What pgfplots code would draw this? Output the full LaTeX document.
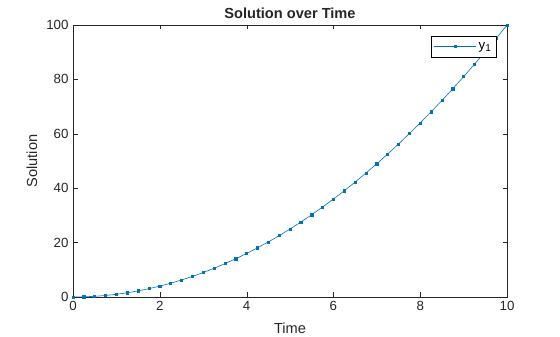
\documentclass[border=0pt]{standalone}
\usepackage{fontspec}
\setmainfont{Liberation Sans}
\usepackage{pgfplots}
\pgfplotsset{compat=1.18}
\definecolor{mblue}{rgb}{0,0.447,0.741}
\definecolor{tickgray}{rgb}{0.15,0.15,0.15}
\begin{document}
\begin{tikzpicture}
\path[use as bounding box] (0,0) rectangle (560pt,337pt);
\begin{axis}[
  at={(73pt,40pt)}, anchor=south west,
  scale only axis, width=434pt, height=272pt,
  xmin=0, xmax=10, ymin=0, ymax=100,
  xtick={0,2,4,6,8,10}, ytick={0,20,40,60,80,100},
  tick align=inside, major tick length=4.5pt,
  axis line style={tickgray}, tick style={tickgray},
  /pgf/number format/assume math mode=true,
  ticklabel style={font=\fontsize{13.3}{15}\selectfont, text=tickgray},
  xticklabel style={yshift=-1pt},
  yticklabel style={xshift=-1pt},
  xlabel={Time}, ylabel={Solution},
  xlabel style={font=\fontsize{14.6}{16}\selectfont, text=tickgray, at={(rel axis cs:0.5,0)}, anchor=center, yshift=-31pt},
  ylabel style={font=\fontsize{14.6}{16}\selectfont, text=tickgray, at={(rel axis cs:0,0.5)}, anchor=center, yshift=41pt},
  title={\textbf{Solution over Time}},
  title style={font=\fontsize{14.6}{16}\selectfont, text=tickgray, at={(rel axis cs:0.5,1)}, anchor=center, yshift=6pt},
  legend style={at={(0.9747,0.9596)}, anchor=north east, draw=black, font=\fontsize{13.3}{15}\selectfont, inner xsep=3pt, inner ysep=4pt, legend cell align=left},
  legend image code/.code={\draw[mblue, line width=0.5pt] (0pt,0pt) -- (42pt,0pt); \fill[mblue] (19.7pt,-1.3pt) rectangle (22.3pt,1.3pt);},
]
\addplot[mblue, line width=0.6pt, mark=square*, mark size=1.1pt, mark options={fill=mblue}] coordinates {
(0,0) (0.25,0.0625) (0.5,0.25) (0.75,0.5625) (1,1) (1.25,1.5625) (1.5,2.25) (1.75,3.0625)
(2,4) (2.25,5.0625) (2.5,6.25) (2.75,7.5625) (3,9) (3.25,10.5625) (3.5,12.25) (3.75,14.0625)
(4,16) (4.25,18.0625) (4.5,20.25) (4.75,22.5625) (5,25) (5.25,27.5625) (5.5,30.25) (5.75,33.0625)
(6,36) (6.25,39.0625) (6.5,42.25) (6.75,45.5625) (7,49) (7.25,52.5625) (7.5,56.25) (7.75,60.0625)
(8,64) (8.25,68.0625) (8.5,72.25) (8.75,76.5625) (9,81) (9.25,85.5625) (9.5,90.25) (9.75,95.0625)
(10,100)
};
\addlegendentry{y{\fontsize{10}{12}\selectfont\raisebox{-2.5pt}{1}}}
\end{axis}
\end{tikzpicture}
\end{document}
